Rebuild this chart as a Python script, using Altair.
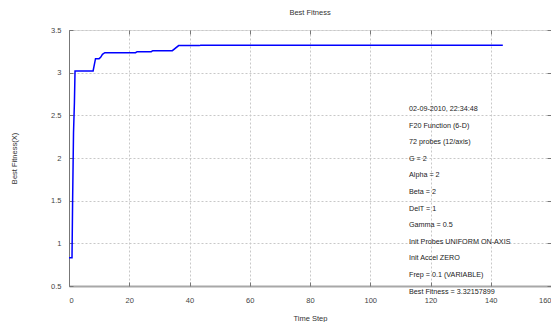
import altair as alt
import pandas as pd

# Data
time_step = [0, 1.0, 1.2, 1.5, 1.8, 2.0, 8.0, 8.8, 10.0, 10.5, 11.1, 11.9, 22.1, 22.6, 27.3, 27.8, 34.3, 36.4, 43.2, 43.7, 144]
best_fit = [0.83, 0.83, 1.5, 2.3, 2.65, 3.02, 3.02, 3.164, 3.164, 3.18, 3.215, 3.234, 3.234, 3.246, 3.246, 3.258, 3.258, 3.317, 3.317, 3.321, 3.3216]

x_ticks = [0, 20, 40, 60, 80, 100, 120, 140, 160]
y_ticks = [0.5, 1, 1.5, 2, 2.5, 3, 3.5]

info_lines = [
    "02-09-2010, 22:34:48",
    "F20 Function (6-D)",
    "72 probes (12/axis)",
    "G = 2",
    "Alpha = 2",
    "Beta = 2",
    "DelT = 1",
    "Gamma = 0.5",
    "Init Probes UNIFORM ON-AXIS",
    "Init Accel ZERO",
    "Frep = 0.1 (VARIABLE)",
    "Best Fitness = 3.32157899",
]

df = pd.DataFrame({"t": time_step, "f": best_fit})

FONT = "Liberation Sans"
W, H = 482, 256

xscale = alt.Scale(domain=[0, 160], nice=False, zero=False)
yscale = alt.Scale(domain=[0.5, 3.5], nice=False, zero=False)

main = alt.Chart(df).mark_line(color="#0000ff", strokeWidth=1.5, interpolate="linear").encode(
    x=alt.X("t:Q", scale=xscale, title="Time Step",
            axis=alt.Axis(orient="bottom", values=x_ticks, ticks=False, tickSize=0, labelPadding=10,
                          format="d", grid=True, gridColor="#c8c8c8", gridDash=[2, 2], gridWidth=1,
                          domain=True, domainColor="#a8a8a8", domainWidth=2,
                          labelFont=FONT, labelFontSize=7.5, labelColor="#444",
                          titleFont=FONT, titleFontSize=7.5, titleFontWeight="normal", titleColor="#333",
                          titlePadding=11)),
    y=alt.Y("f:Q", scale=yscale, title="Best Fitness(X)",
            axis=alt.Axis(orient="left", values=y_ticks, ticks=False, tickSize=0, labelPadding=8,
                          format="~g", grid=True, gridColor="#c8c8c8", gridDash=[2, 2], gridWidth=1,
                          domain=True, domainColor="#777", domainWidth=1,
                          labelFont=FONT, labelFontSize=7.5, labelColor="#444",
                          titleFont=FONT, titleFontSize=7.5, titleFontWeight="normal", titleColor="#333",
                          titlePadding=32)),
)

def tick_axis(orient):
    return alt.Axis(orient=orient, values=x_ticks if orient in ("top", "bottom") else y_ticks,
                    labels=False, domain=False, grid=False, ticks=True, tickSize=4,
                    tickColor="#777", tickWidth=1, offset=-4, title=None)

ticks_a = alt.Chart(df).mark_line(opacity=0).encode(
    x=alt.X("t:Q", scale=xscale, axis=tick_axis("bottom")),
    y=alt.Y("f:Q", scale=yscale, axis=tick_axis("left")),
)
ticks_b = alt.Chart(df).mark_line(opacity=0).encode(
    x=alt.X("t:Q", scale=xscale, axis=tick_axis("top")),
    y=alt.Y("f:Q", scale=yscale, axis=tick_axis("right")),
)

info = alt.Chart(pd.DataFrame({"k": [0]})).mark_text(
    align="left", baseline="middle", font=FONT, fontSize=7.2, color="#222", lineHeight=16.6
).encode(x=alt.value(340), y=alt.value(79), text=alt.value(info_lines))

chart = alt.layer(main, ticks_a, ticks_b, info).resolve_axis(x="independent", y="independent").properties(
    width=W, height=H,
    title=alt.TitleParams("Best Fitness", font=FONT, fontSize=7.5, fontWeight="normal", color="#333",
                          anchor="middle", offset=10),
    autosize=alt.AutoSizeParams(type="none"),
    padding={"left": 61, "top": 22, "right": 0, "bottom": 36},
).configure_view(stroke="#777", strokeWidth=1).configure(background="white")

chart.save("out.html", embed_options={"renderer": "svg", "actions": False})
